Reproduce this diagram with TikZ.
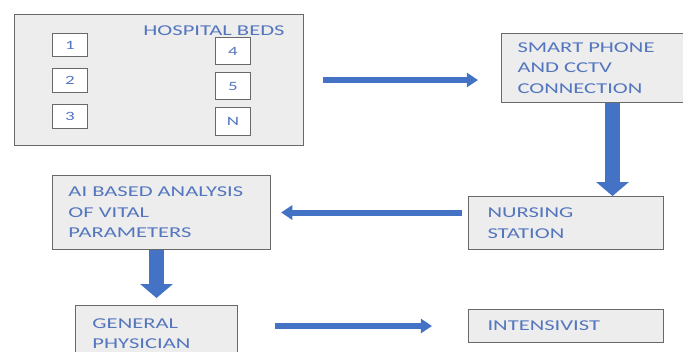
\documentclass[tikz,border=0pt]{standalone}
\usepackage{fontspec}
\newfontfamily\boxfont{Carlito}[FakeStretch=1.5]
\usepackage{tikz}
\usetikzlibrary{positioning}
\usetikzlibrary{calc}
\usetikzlibrary{arrows.meta}

\definecolor{flowblue}{RGB}{68,114,196}
\definecolor{labelblue}{RGB}{84,118,190}
\definecolor{panelfill}{RGB}{237,237,237}
\definecolor{panelline}{RGB}{105,105,105}

\begin{document}
\begin{tikzpicture}[x=0.025cm, y=-0.025cm,
    panel/.style={draw=panelline, fill=panelfill, line width=0.7pt, anchor=north west,
        inner ysep=0pt, align=left, text=labelblue,
        font=\boxfont\fontsize{10.7}{14.6}\selectfont},
    bed/.style={draw=panelline, fill=white, line width=0.7pt, anchor=north west,
        inner sep=0pt, minimum width=0.875cm, text=labelblue,
        font=\boxfont\fontsize{9}{10}\selectfont},
    thinflow/.style={draw=flowblue, line width=0.15cm, -{Triangle[width=0.35cm,length=0.28cm]}},
    thickflow/.style={draw=flowblue, line width=0.375cm, -{Triangle[width=0.8cm,length=0.35cm]}}]

    \useasboundingbox (0,0) rectangle (683,351);
    \clip (0,0) rectangle (683,351);

    % ward with the beds
    \node [panel, minimum width=7.225cm, minimum height=3.275cm] (beds) at (14,14) {};
    \node [text=labelblue, font=\boxfont\fontsize{10.7}{14.6}\selectfont] (bedstitle) at (214,30.5) {HOSPITAL BEDS};

    \node [bed, minimum height=0.575cm] (b1) at (52,33) {1};
    \node [bed, minimum height=0.6cm, below=0.275cm of b1.south west, anchor=north west] (b2) {2};
    \node [bed, minimum height=0.6cm, below=0.275cm of b2.south west, anchor=north west] (b3) {3};
    \node [bed, minimum height=0.675cm] (b4) at (215,37) {4};
    \node [bed, minimum height=0.675cm, below=0.175cm of b4.south west, anchor=north west] (b5) {5};
    \node [bed, minimum height=0.7cm, below=0.175cm of b5.south west, anchor=north west] (bn) {N};

    % flow boxes
    \node [panel, minimum width=4.575cm, minimum height=1.725cm, inner xsep=0.4cm, text width=3.775cm]
        (phone) at (501,33) {SMART PHONE\\AND CCTV\\CONNECTION};
    \node [panel, minimum width=4.875cm, minimum height=1.325cm, inner xsep=0.475cm, text width=3.925cm]
        (nurse) at (468,196) {NURSING\\STATION};
    \node [panel, minimum width=5.45cm, minimum height=1.85cm, inner xsep=0.4cm, text width=4.65cm]
        (ai) at (52,175) {AI BASED ANALYSIS\\OF VITAL\\PARAMETERS};
    \node [panel, minimum width=4.05cm, minimum height=1.4cm, inner xsep=0.425cm, text width=3.2cm]
        (gp) at (75,305) {GENERAL\\PHYSICIAN};
    \node [panel, minimum width=4.875cm, minimum height=0.825cm, inner xsep=0.475cm, text width=3.925cm]
        (intens) at (468,309) {INTENSIVIST};

    % arrows
    \draw [thinflow, shorten <=0.475cm, shorten >=0.575cm] (beds.east) -- (beds.east -| phone.west);

    \coordinate (drop) at ($(phone.south)+(19.5,0)$);
    \draw [thickflow] (drop) -- (drop |- nurse.north);

    \draw [thinflow, shorten <=0.15cm, shorten >=0.25cm] (nurse.west |- ai.east) -- (ai.east);

    \draw [thickflow, shorten >=0.175cm] (ai.south -| gp.north) -- (gp.north);

    \draw [thinflow, shorten <=0.925cm, shorten >=0.9cm] (gp.east |- intens.west) -- (intens.west);

\end{tikzpicture}
\end{document}
